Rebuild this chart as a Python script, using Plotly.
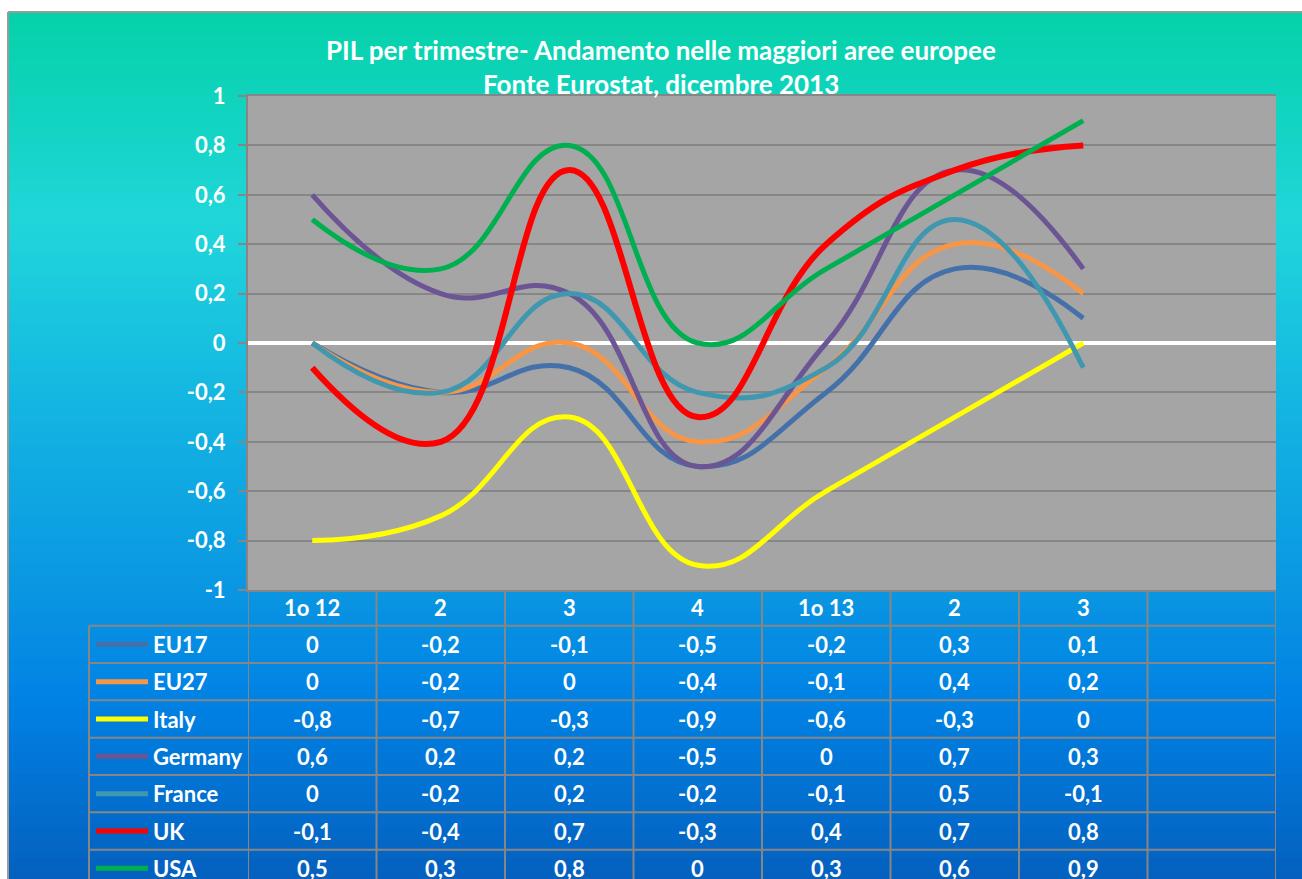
import plotly.graph_objects as go

# ---------------- data ----------------
categories = ["1o 12", "2", "3", "4", "1o 13", "2", "3", ""]
series_names = ["EU17", "EU27", "Italy", "Germany", "France", "UK", "USA"]
eu17 = [0, -0.2, -0.1, -0.5, -0.2, 0.3, 0.1]
eu27 = [0, -0.2, 0, -0.4, -0.1, 0.4, 0.2]
italy = [-0.8, -0.7, -0.3, -0.9, -0.6, -0.3, 0]
germany = [0.6, 0.2, 0.2, -0.5, 0, 0.7, 0.3]
france = [0, -0.2, 0.2, -0.2, -0.1, 0.5, -0.1]
uk = [-0.1, -0.4, 0.7, -0.3, 0.4, 0.7, 0.8]
usa = [0.5, 0.3, 0.8, 0, 0.3, 0.6, 0.9]
y_ticks = [-1, -0.8, -0.6, -0.4, -0.2, 0, 0.2, 0.4, 0.6, 0.8, 1]
title_lines = ["PIL per trimestre- Andamento nelle maggiori aree europee",
               "Fonte Eurostat, dicembre 2013"]

series_values = [eu17, eu27, italy, germany, france, uk, usa]
colors = ["#4471AA", "#F79646", "#FFFF00", "#6B5595", "#3F98B0", "#FF0000", "#00B050"]
widths = [5, 5, 5, 5, 5, 6, 5]

# ---------------- geometry (pixels) ----------------
W, H = 1302, 879
PL, PR, PT, PB = 248, 1276, 96, 590  # plot area in px
pw, ph = PR - PL, PB - PT


def px_x(p):
    return (p - PL) / pw


def px_y(p):
    return (PB - p) / ph


def fmt(v):
    s = f"{v:g}"
    return s.replace(".", ",")


FONT = "Lato, 'Open Sans', sans-serif"
TXT = 22

fig = go.Figure()
xs = list(range(len(categories)))

for name, vals, c, w in zip(series_names, series_values, colors, widths):
    fig.add_trace(go.Scatter(
        x=xs[:len(vals)], y=vals, mode="lines", name=name,
        line=dict(color=c, width=w, shape="spline", smoothing=1.3),
        showlegend=False, hoverinfo="x+y+name"))

shapes = []
# background gradient of the chart box
stops = [(12, (4, 210, 168)), (222, (32, 214, 218)), (400, (20, 182, 226)),
         (612, (8, 146, 226)), (700, (0, 130, 228)), (890, (5, 94, 188))]


def col_at(p):
    for (p0, c0), (p1, c1) in zip(stops[:-1], stops[1:]):
        if p0 <= p <= p1:
            t = (p - p0) / (p1 - p0)
            return "rgb(%d,%d,%d)" % tuple(round(a + (b - a) * t) for a, b in zip(c0, c1))
    return "rgb(%d,%d,%d)" % stops[-1][1]


step = 6
p = 12
while p < 885:
    shapes.append(dict(type="rect", xref="paper", yref="paper", layer="below",
                       x0=px_x(8), x1=px_x(1320), y0=px_y(p), y1=px_y(p + step + 1),
                       fillcolor=col_at(p + step / 2), line=dict(width=0)))
    p += step
# border of chart box
shapes.append(dict(type="line", xref="paper", yref="paper", layer="below",
                   x0=px_x(8), x1=px_x(8), y0=px_y(12), y1=px_y(890),
                   line=dict(color="#9A9A9A", width=2)))
shapes.append(dict(type="line", xref="paper", yref="paper", layer="below",
                   x0=px_x(8), x1=px_x(1320), y0=px_y(12), y1=px_y(12),
                   line=dict(color="#9A9A9A", width=2)))
# plot area
shapes.append(dict(type="rect", xref="paper", yref="paper", layer="below",
                   x0=0, x1=1, y0=0, y1=1, fillcolor="#A5A5A5", line=dict(width=0)))

# ---------------- data table ----------------
GRID = "#868686"
header_bottom = 625.7
row_h = 37.33
row_lines = [header_bottom + i * row_h for i in range(len(series_names) + 1)]
table_left = 89
for yl in row_lines:
    shapes.append(dict(type="line", xref="paper", yref="paper",
                       x0=px_x(table_left), x1=1, y0=px_y(yl), y1=px_y(yl),
                       line=dict(color=GRID, width=2)))
for i in range(len(categories) + 1):
    shapes.append(dict(type="line", xref="x", yref="paper",
                       x0=i - 0.5, x1=i - 0.5, y0=0, y1=px_y(900),
                       line=dict(color=GRID, width=2)))
shapes.append(dict(type="line", xref="paper", yref="paper",
                   x0=px_x(table_left), x1=px_x(table_left), y0=px_y(header_bottom), y1=px_y(900),
                   line=dict(color=GRID, width=2)))

annotations = []
# header labels
for i, c in enumerate(categories):
    annotations.append(dict(xref="x", yref="paper", x=i, y=px_y((PB + header_bottom) / 2),
                            text=c, showarrow=False, xanchor="center", yanchor="middle",
                            font=dict(family=FONT, size=TXT, color="white", weight="bold")))
# rows
for r, (name, vals, c) in enumerate(zip(series_names, series_values, colors)):
    yc = header_bottom + (r + 0.5) * row_h
    shapes.append(dict(type="line", xref="paper", yref="paper",
                       x0=px_x(96), x1=px_x(148), y0=px_y(yc), y1=px_y(yc),
                       line=dict(color=c, width=5)))
    annotations.append(dict(xref="paper", yref="paper", x=px_x(151), y=px_y(yc),
                            text=name, showarrow=False, xanchor="left", yanchor="middle",
                            font=dict(family=FONT, size=TXT, color="white", weight="bold")))
    for i, v in enumerate(vals):
        annotations.append(dict(xref="x", yref="paper", x=i, y=px_y(yc),
                                text=fmt(v), showarrow=False, xanchor="center", yanchor="middle",
                                font=dict(family=FONT, size=TXT, color="white", weight="bold")))

# title
for k, (t, yp) in enumerate(zip(title_lines, [50, 84])):
    annotations.append(dict(xref="paper", yref="paper", x=px_x(661), y=px_y(yp),
                            text=t, showarrow=False, xanchor="center", yanchor="middle",
                            font=dict(family=FONT, size=26, color="white", weight="bold")))

fig.update_layout(
    width=W, height=H,
    margin=dict(l=PL, r=W - PR, t=PT, b=H - PB, pad=0),
    paper_bgcolor="white", plot_bgcolor="rgba(0,0,0,0)",
    shapes=shapes, annotations=annotations,
    xaxis=dict(range=[-0.5, len(categories) - 0.5], showgrid=False, zeroline=False,
               showticklabels=False, showline=True, mirror=True, linecolor=GRID,
               linewidth=2, ticks=""),
    yaxis=dict(range=[-1, 1], tickvals=y_ticks, ticktext=[fmt(v) for v in y_ticks],
               showgrid=True, gridcolor=GRID, gridwidth=2,
               zeroline=True, zerolinecolor="white", zerolinewidth=4,
               showline=True, linecolor=GRID, linewidth=2,
               ticks="outside", ticklen=8, tickcolor=GRID, tickwidth=2,
               ticklabelstandoff=8,
               tickfont=dict(family=FONT, size=TXT, color="white", weight="bold")),
)

fig.write_html("out.html")
